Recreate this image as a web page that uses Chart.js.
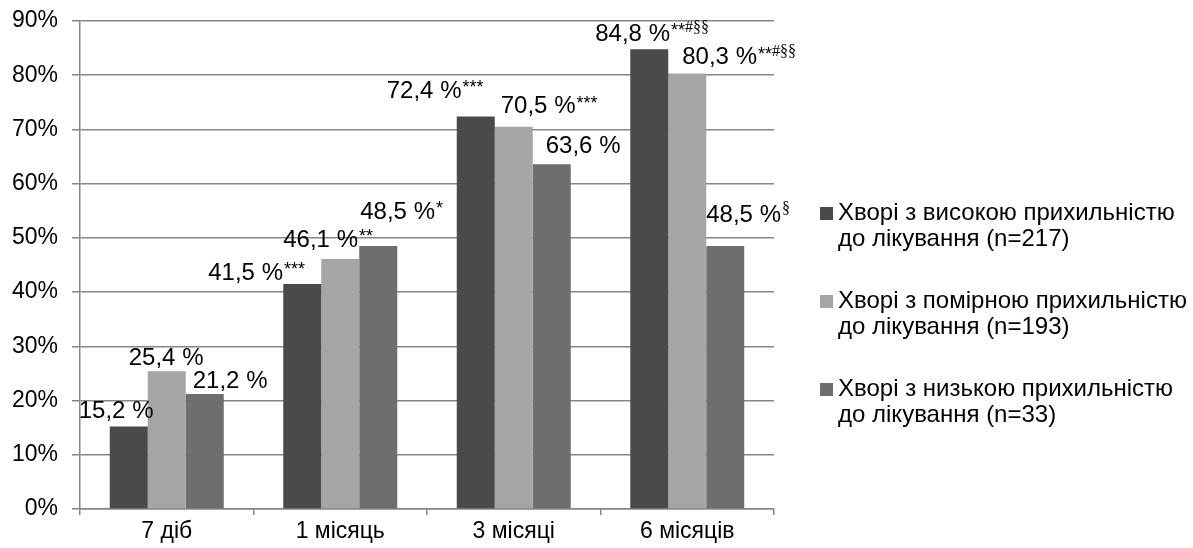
<!DOCTYPE html>
<html>
<head>
<meta charset="utf-8">
<script src="https://cdn.jsdelivr.net/npm/chart.js@4"></script>
<style>
  html, body { margin: 0; padding: 0; background: #fff; }
  #wrap { width: 1193px; height: 548px; position: relative; }
</style>
</head>
<body>
<div id="wrap"><canvas id="myChart"></canvas></div>
<script>
const categories = ['7 діб', '1 місяць', '3 місяці', '6 місяців'];

const high_values = [15.2, 41.5, 72.4, 84.8];
const medium_values = [25.4, 46.1, 70.5, 80.3];
const low_values = [21.2, 48.5, 63.6, 48.5];

// significance marks shown after each value
const high_marks = ['', '***', '***', '**#§§'];
const medium_marks = ['', '**', '***', '**#§§'];
const low_marks = ['', '*', '', '§'];

const series_names = [
  ['Хворі з високою прихильністю', 'до лікування (n=217)'],
  ['Хворі з помірною прихильністю', 'до лікування (n=193)'],
  ['Хворі з низькою прихильністю', 'до лікування (n=33)']
];

const colors = ['#4a4a4a', '#a5a5a5', '#6e6e6e'];
const FONT = '"Liberation Sans", Arial, sans-serif';

// where each label sits relative to its bar (left edge from bar centre, middle from bar top)
const label_shift = [
  [[-50, -15], [-94, -11], [-89, -25], [-54, -15]],
  [[-38, -13], [-57, -19], [-13, -20], [-5, -16]],
  [[-12, -13], [-18, -34], [-6, -18], [-19, -31]]
];

const valueLabels = {
  id: 'valueLabels',
  afterDatasetsDraw(chart) {
    const c = chart.ctx;
    const marks = [high_marks, medium_marks, low_marks];
    chart.data.datasets.forEach((ds, d) => {
      const meta = chart.getDatasetMeta(d);
      meta.data.forEach((bar, i) => {
        const txt = ds.data[i].toFixed(1).replace('.', ',') + ' %';
        const x = bar.x + label_shift[d][i][0];
        const y = bar.y + label_shift[d][i][1];
        c.save();
        c.fillStyle = '#000';
        c.textBaseline = 'middle';
        c.textAlign = 'left';
        c.font = '24px ' + FONT;
        c.fillText(txt, x, y);
        let sx = x + c.measureText(txt).width + 1;
        const m = marks[d][i];
        for (const ch of m) {
          c.font = ch === '*' ? '18px ' + FONT : '16px "Liberation Serif", serif';
          c.fillText(ch, sx, ch === '*' ? y - 3 : y - 6);
          sx += c.measureText(ch).width;
        }
        c.restore();
      });
    });
  }
};

const sideLegend = {
  id: 'sideLegend',
  afterDraw(chart) {
    const c = chart.ctx;
    const x0 = 820;
    const tops = [213, 301, 389];
    c.save();
    c.textBaseline = 'middle';
    c.textAlign = 'left';
    c.font = '24px ' + FONT;
    series_names.forEach((lines, k) => {
      c.fillStyle = colors[k];
      c.fillRect(x0, tops[k] - 6, 13, 13);
      c.fillStyle = '#000';
      lines.forEach((ln, j) => c.fillText(ln, x0 + 18, tops[k] + j * 26));
    });
    c.restore();
  }
};

const ctx = document.getElementById('myChart');

const chart = new Chart(ctx, {
  type: 'bar',
  data: {
    labels: categories,
    datasets: [
      { label: series_names[0].join(' '), data: high_values, backgroundColor: colors[0] },
      { label: series_names[1].join(' '), data: medium_values, backgroundColor: colors[1] },
      { label: series_names[2].join(' '), data: low_values, backgroundColor: colors[2] }
    ]
  },
  options: {
    responsive: true,
    maintainAspectRatio: false,
    animation: false,
    layout: { padding: { top: 21, right: 419, left: 0, bottom: 0 } },
    datasets: { bar: { categoryPercentage: 0.657, barPercentage: 1.0 } },
    plugins: {
      legend: { display: false },
      tooltip: { enabled: false }
    },
    scales: {
      x: {
        grid: { offset: true, drawOnChartArea: false, drawTicks: true, tickLength: 6, color: '#868686', lineWidth: 1.5 },
        border: { color: '#868686', width: 1.5 },
        ticks: { color: '#000', font: { family: FONT, size: 23 }, padding: 3 },
        afterFit(s) { s.height = 39; s.paddingLeft = 0; s.paddingRight = 0; }
      },
      y: {
        min: 0,
        max: 90,
        grid: { color: '#868686', lineWidth: 1.5, tickLength: 8 },
        border: { color: '#868686', width: 1.5 },
        ticks: {
          stepSize: 10,
          color: '#000',
          font: { family: FONT, size: 23 },
          padding: 14,
          callback: v => v + '%'
        },
        afterFit(s) { s.width = 80; s.paddingTop = 0; s.paddingBottom = 0; }
      }
    }
  },
  plugins: [valueLabels, sideLegend]
});
</script>
</body>
</html>
